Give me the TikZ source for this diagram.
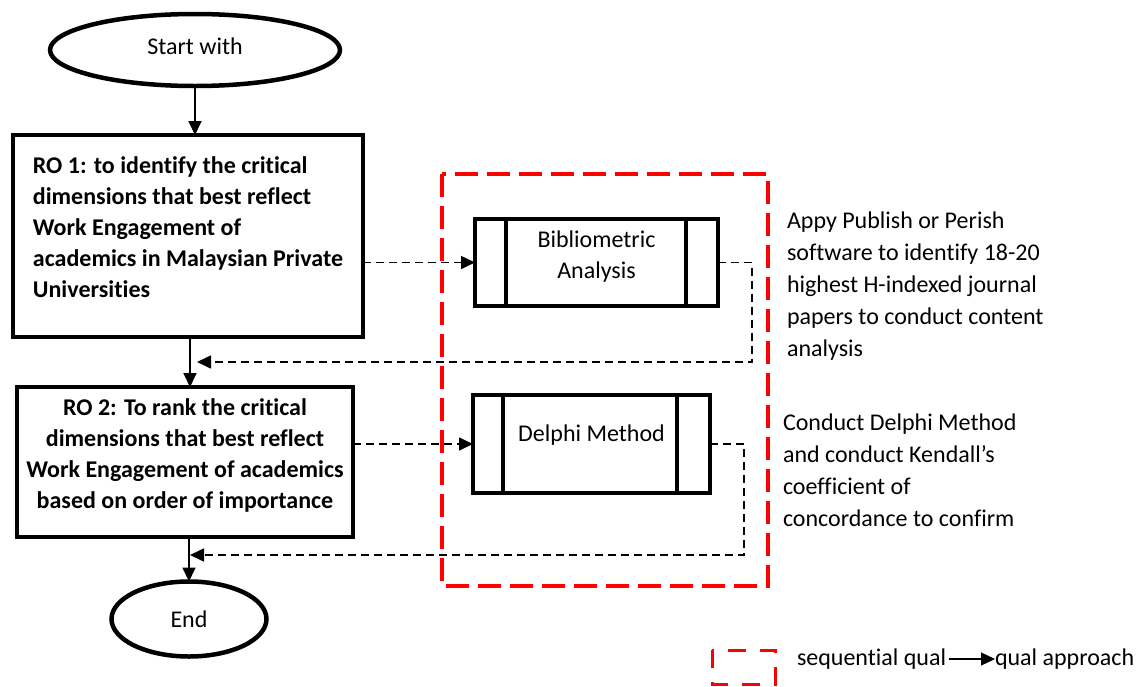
\documentclass[tikz,border=0pt]{standalone}
\usepackage{fontspec}
\setmainfont{Carlito}[Ligatures={NoCommon,NoContextual},Contextuals=NoAlternate]
\usetikzlibrary{arrows.meta,shapes.geometric,calc}
\definecolor{frame}{RGB}{255,0,0}
\newcommand{\lowpad}[1]{\rule[-#1]{0pt}{0pt}}
\begin{document}
\begin{tikzpicture}[x=1pt,y=-1pt,
  every node/.style={font=\fontsize{24}{31}\selectfont,outer sep=0pt},
  term/.style={ellipse,draw,line width=4.5pt,inner sep=0pt},
  robox/.style={rectangle,draw,line width=4.5pt,inner sep=0pt},
  procbox/.style={rectangle,draw,line width=4.5pt,inner sep=0pt},
  side/.style={draw,line width=4.5pt},
  note/.style={anchor=west,inner sep=0pt,font=\fontsize{24}{32}\selectfont},
  tip/.style={-{Triangle[length=14pt,width=13pt]}},
  flow/.style={line width=1.8pt,tip},
  dflow/.style={line width=1.6pt,dash pattern=on 8pt off 5pt,tip},
  redframe/.style={draw=frame,line width=4.5pt,dash pattern=on 23pt off 9pt},
  legframe/.style={draw=frame,line width=3pt,dash pattern=on 18pt off 14pt},
]
\useasboundingbox (0,0) rectangle (1138,686);

% terminals
\node[term,minimum width=290pt,minimum height=72pt] (start) at (195,50) {Start with\lowpad{8pt}};
\node[term,minimum width=155pt,minimum height=75pt] (endn) at (189,619) {End};

% research objective boxes
\node[robox,minimum width=350pt,minimum height=202pt] (ro1) at (188,236)
  {\bfseries\begin{tabular}{@{}l@{}}RO 1: to identify the critical\\dimensions that best reflect\\Work Engagement of\\academics in Malaysian Private\\Universities\lowpad{23pt}\end{tabular}\hspace{10pt}};
\node[robox,minimum width=336pt,minimum height=150pt] (ro2) at (185,462)
  {\bfseries\begin{tabular}{@{}c@{}}RO 2: To rank the critical\\dimensions that best reflect\\Work Engagement of academics\\based on order of importance\lowpad{21pt}\end{tabular}};

% process boxes
\node[procbox,minimum width=243pt,minimum height=87pt] (bib) at (596.5,262.5)
  {\begin{tabular}{@{}c@{}}Bibliometric\\Analysis\lowpad{21pt}\end{tabular}};
\draw[side] ([xshift=31pt]bib.north west) -- ([xshift=31pt]bib.south west);
\draw[side] ([xshift=-32pt]bib.north east) -- ([xshift=-32pt]bib.south east);

\node[procbox,minimum width=237pt,minimum height=98pt] (del) at (591.5,444)
  {Delphi Method\lowpad{21pt}};
\draw[side] ([xshift=30pt]del.north west) -- ([xshift=30pt]del.south west);
\draw[side] ([xshift=-33pt]del.north east) -- ([xshift=-33pt]del.south east);

% red dashed frame
\draw[redframe] (442,174) rectangle (768,586);

% side notes
\node[note] (n1) at (787,286.5) {\begin{tabular}{@{}l@{}}Appy Publish or Perish\\software to identify 18-20\\highest H-indexed journal\\papers to conduct content\\analysis\end{tabular}};
\node[note] (n2) at (783,472) {\begin{tabular}{@{}l@{}}Conduct Delphi Method\\and conduct Kendall’s\\coefficient of\\concordance to confirm\end{tabular}};

% main flow
\coordinate (m1) at ([xshift=2pt]ro1.south);
\draw[flow] (start.south) -- (start.south |- ro1.north);
\draw[flow] (m1) -- (m1 |- ro2.north);
\draw[flow] (endn.north |- ro2.south) -- (endn.north);

% dashed connectors
\draw[dflow] (ro1.east |- bib.west) -- (bib.west);
\draw[dflow] (ro2.east |- del.west) -- (del.west);
\coordinate (j1) at (197,362);
\coordinate (j2) at (190,555);
\draw[dflow] (bib.east) -- ++(34,0) |- (j1);
\draw[dflow] (del.east) -- ++(34,0) |- (j2);

% legend
\draw[legframe] (712,650) rectangle (775,684);
\node[note,font=\fontsize{24}{31}\selectfont] (seq) at (797,659) {sequential qual};
\node[note,font=\fontsize{24}{31}\selectfont] (app) at (995,659) {qual approach};
\draw[line width=1.2pt,tip] (seq.east) ++(3,0) -- (app.west);
\end{tikzpicture}
\end{document}
